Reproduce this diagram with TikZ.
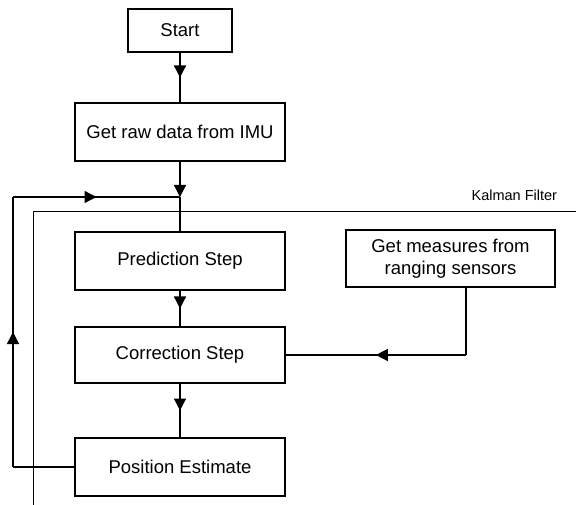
\documentclass[tikz,border=0pt]{standalone}
\usepackage{fontspec}
\setmainfont{Liberation Sans}
\usetikzlibrary{arrows.meta,decorations.markings}

\begin{document}
\begin{tikzpicture}[x=1pt,y=-1pt,line width=1.3pt,
  font=\fontsize{18.5}{22}\selectfont,
  blk/.style={draw,minimum width=210pt,minimum height=58pt,inner sep=0pt,align=center},
  midarrow/.style={postaction={decorate},decoration={markings,
      mark=at position 0.5 with {\arrow{Triangle[length=12pt,width=12pt]}}}},
  endarrow/.style={-{Triangle[length=12pt,width=12pt]}},
  kfline/.style={line width=1pt}]
  \useasboundingbox (0,0) rectangle (576,505);
  % main chain
  \node[blk,minimum width=104pt,minimum height=43pt] (start) at (180,30.5) {Start};
  \node[blk] (raw)  at (180,132) {Get raw data from IMU};
  \node[blk] (pred) at (180,261) {Prediction Step};
  \node[blk,minimum height=56pt] (corr) at (180,355) {Correction Step};
  \node[blk] (pos)  at (180,467) {Position Estimate};
  % external sensors
  \node[blk,minimum width=209pt,minimum height=57pt] (meas) at (450.5,258.5)
       {Get measures from\\ranging sensors};
  \node[font=\fontsize{14.5}{17}\selectfont,anchor=east] (kf) at (561,195) {Kalman Filter};
  % helper points
  \coordinate (join) at (180,197);
  \coordinate (fbL) at (13,467);  \coordinate (fbT) at (13,197);
  \coordinate (kfB) at (33,505);  \coordinate (kfC) at (33,212);  \coordinate (kfR) at (576,212);
  \coordinate (mBend) at (466,355);
  % arrows
  \draw[midarrow] (start) -- (raw);
  \draw[endarrow] (raw) -- (join);
  \draw (join) -- (pred);
  \draw[midarrow] (pred) -- (corr);
  \draw[midarrow] (corr) -- (pos);
  % loop back
  \draw (pos.west) -- (fbL);
  \draw[midarrow] (fbL) -- (fbT);
  \draw[midarrow] (fbT) -- (join);
  % measurement input
  \draw (meas.south -| mBend) -- (mBend);
  \draw[midarrow] (mBend) -- (corr.east);
  % filter boundary
  \draw[kfline] (kfB) -- (kfC) -- (kfR);
\end{tikzpicture}
\end{document}
